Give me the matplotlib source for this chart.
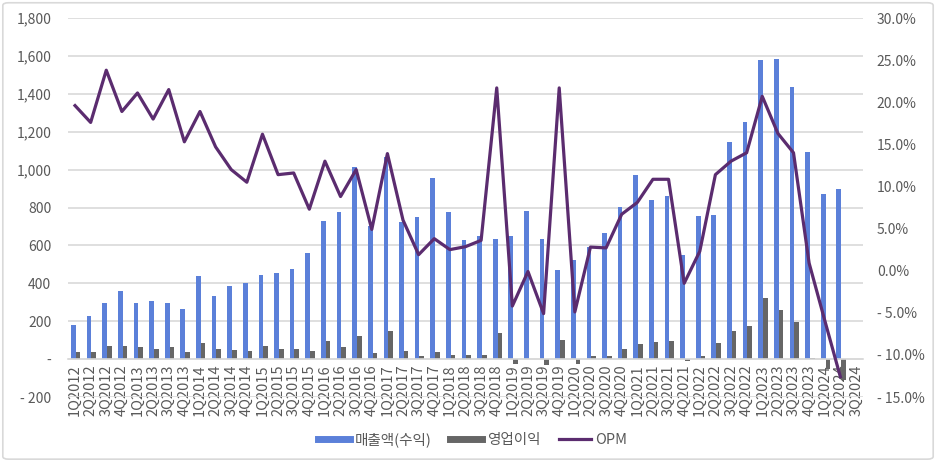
import numpy as np
import matplotlib
matplotlib.use("Agg")
import matplotlib.pyplot as plt
from matplotlib.lines import Line2D
from matplotlib.patches import FancyBboxPatch
from matplotlib.ticker import FuncFormatter

plt.rcParams['font.family'] = ['Noto Sans CJK KR', 'DejaVu Sans']

quarters = [f"{q}Q{y}" for y in range(2012, 2025) for q in range(1, 5)][:51]

revenue = [180, 228, 298, 357, 298, 307, 298, 264,
           439, 334, 387, 404, 445, 452, 476, 559,
           731, 775, 1014, 703, 1069, 724, 751, 955,
           775, 631, 652, 636, 649, 782, 636, 471,
           525, 591, 668, 805, 970, 838, 861, 550,
           756, 759, 1148, 1250, 1577, 1584, 1438, 1092,
           872, 900, np.nan]

op_profit = [35, 40, 70, 67, 62, 54, 62, 40,
             83, 51, 47, 44, 70, 51, 54, 44,
             93, 65, 121, 33, 149, 44, 16, 35,
             19, 19, 23, 139, -25, -1, -30, 102,
             -26, 16, 18, 54, 79, 90, 93, -8,
             17, 86, 149, 176, 325, 258, 198, 8,
             -53, -110, np.nan]

opm = [19.6, 17.6, 23.8, 18.9, 21.1, 18.0, 21.5, 15.3,
       18.9, 14.7, 12.0, 10.5, 16.2, 11.4, 11.6, 7.3,
       13.0, 8.8, 12.0, 4.9, 13.9, 6.0, 1.9, 3.8,
       2.5, 2.85, 3.6, 21.7, -4.2, -0.1, -5.1, 21.7,
       -4.9, 2.8, 2.7, 6.7, 8.1, 10.85, 10.85, -1.5,
       2.3, 11.4, 13.0, 14.0, 20.7, 16.3, 14.0, 0.9,
       -5.9, -12.6, np.nan]

blue = "#5B80D9"
grey = "#666666"
purple = "#5B2C6F"
txt = "#595959"

fig = plt.figure(figsize=(9.36, 4.61), dpi=100)
fig.patches.append(FancyBboxPatch((0.003, 0.004), 0.994, 0.99, boxstyle="round,pad=0,rounding_size=0.006",
                                  transform=fig.transFigure, fill=False, edgecolor="#D9D9D9", lw=1.2))
ax = fig.add_axes([68 / 936, 1 - 397 / 461, (863 - 68) / 936, (397 - 18) / 461])
ax2 = ax.twinx()

x = np.arange(len(quarters))
w = 0.3
ax.bar(x - w / 2 + 0.05, revenue, w, color=blue, zorder=2)
ax.bar(x + w / 2 + 0.05, op_profit, w, color=grey, zorder=2)
ax2.plot(x, opm, color=purple, lw=2.3, zorder=3)

ax.set_ylim(-200, 1800)
ax.set_yticks(range(-200, 1801, 200))
ax.yaxis.set_major_formatter(FuncFormatter(lambda v, p: "-" if v == 0 else (f"- {abs(v):,.0f}" if v < 0 else f"{v:,.0f}")))
ax2.set_ylim(-15, 30)
ax2.set_yticks(range(-15, 31, 5))
ax2.yaxis.set_major_formatter(FuncFormatter(lambda v, p: f"- {abs(v):.1f}%" if v < 0 else f"{v:.1f}%"))
ax.set_xlim(-0.45, len(quarters) - 0.55)

ax.set_xticks(x)
ax.set_xticklabels(quarters)
ax.grid(axis='y', color="#D9D9D9", lw=1.2, zorder=0)
ax.set_axisbelow(True)
for a in (ax, ax2):
    for s in a.spines.values():
        s.set_visible(False)
    a.tick_params(length=0, labelsize=10, labelcolor=txt)
ax.spines['bottom'].set_visible(True)
ax.spines['bottom'].set_position(('data', 0))
ax.spines['bottom'].set_color("#D9D9D9")
ax.spines['bottom'].set_linewidth(1.2)
ax.tick_params(axis='x', pad=4, labelrotation=90, labelsize=10.5)
ax.tick_params(axis='y', pad=12)
ax2.tick_params(axis='y', pad=10)

handles = [Line2D([], [], color=blue, lw=5),
           Line2D([], [], color=grey, lw=5),
           Line2D([], [], color=purple, lw=2.3)]
fig.legend(handles, ["매출액(수익)", "영업이익", "OPM"], loc='center', bbox_to_anchor=(0.505, 1 - 440 / 461),
           ncol=3, frameon=False, fontsize=10.5, labelcolor=txt, handlelength=2.2, handletextpad=0.3,
           columnspacing=1.3)

fig.savefig("out.png", dpi=100)
